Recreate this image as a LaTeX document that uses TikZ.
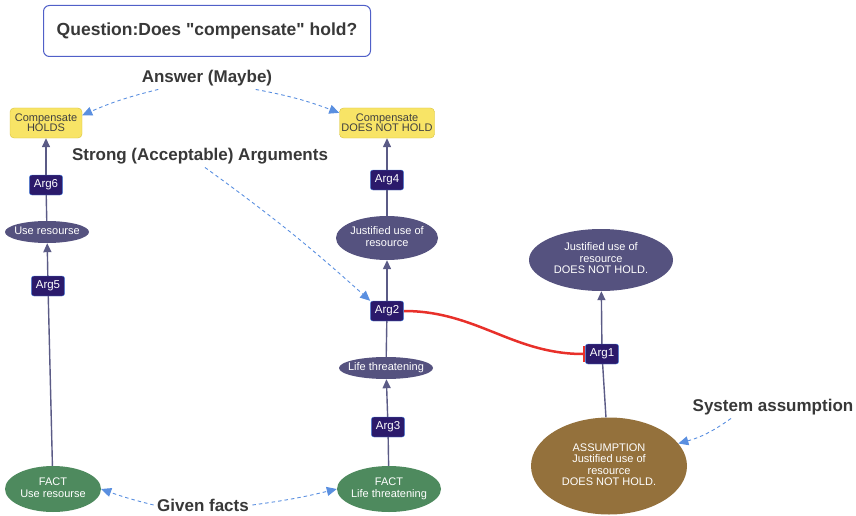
\documentclass[tikz,border=0pt]{standalone}
\usepackage{fontspec}
\setmainfont{Liberation Sans}[Ligatures=TeXOff]
\usetikzlibrary{positioning}
\usetikzlibrary{arrows.meta}
\usetikzlibrary{shapes.geometric}
\definecolor{argfill}{HTML}{2B1A6B}
\definecolor{argline}{HTML}{4F86E0}
\definecolor{qline}{HTML}{5060C8}
\definecolor{claim}{HTML}{55527F}
\definecolor{factgreen}{HTML}{4E8A5E}
\definecolor{assumbrown}{HTML}{94713C}
\definecolor{ansfill}{HTML}{F8E466}
\definecolor{ansline}{HTML}{D8C23C}
\definecolor{link}{HTML}{5B5B86}
\definecolor{hint}{HTML}{5A8FE0}
\definecolor{attack}{HTML}{E8302A}
\newcommand{\elltext}[1]{\makebox[0pt]{\begin{tabular}{@{}c@{}}#1\end{tabular}}}
\tikzset{arg/.style={draw=argline,fill=argfill,rounded corners=2.5pt,text=white,font=\fontsize{11.5}{12}\selectfont,inner xsep=4.5pt,inner ysep=2pt,minimum height=20pt}}
\tikzset{stmt/.style={ellipse,fill=claim,text=white,font=\fontsize{11}{11.5}\selectfont,inner sep=0pt}}
\tikzset{fact/.style={stmt,fill=factgreen,minimum width=96pt,minimum height=46pt}}
\tikzset{ans/.style={draw=ansline,fill=ansfill,rounded corners=4pt,text=black!75,font=\fontsize{11}{10}\selectfont,align=center,minimum height=30pt,inner sep=2pt}}
\tikzset{note/.style={font=\bfseries\fontsize{17}{19}\selectfont,text=black!78}}
\tikzset{supp/.style={link,line width=1.4pt,-{Triangle[length=9pt,width=8pt]}}}
\tikzset{plain/.style={link,line width=1.4pt}}
\tikzset{hintarr/.style={hint,dash pattern=on 3.5pt off 3pt,line width=0.9pt,-{Triangle[length=10pt,width=9pt]}}}
\begin{document}
\begin{tikzpicture}[x=1pt,y=-1pt]
        \useasboundingbox (0,0) rectangle (856,516);

        \node[draw=qline,line width=1pt,rounded corners=6pt,minimum width=327pt,minimum height=51pt,font=\bfseries\fontsize{17.5}{20}\selectfont,text=black!78] (Q) at (207,31) {Question:Does "compensate" hold?};

        \node[ans,minimum width=72pt] (hold) at (46,123) {Compensate\\HOLDS};
        \node[ans,minimum width=95pt,inner xsep=1pt] (nohold) at (387,123) {Compensate\\DOES NOT HOLD};

        \node[arg] (a6) at (46,185) {Arg6};
        \node[stmt,minimum width=84pt,minimum height=22pt] (use) at (47,232) {\elltext{Use resourse}};
        \node[arg] (a5) at (48,286) {Arg5};
        \node[fact] (f1) at (53,489) {\elltext{FACT\\Use resourse}};

        \node[arg] (a4) at (387,180) {Arg4};
        \node[stmt,minimum width=102pt,minimum height=44pt] (just) at (387,238) {\elltext{Justified use of\\resource}};
        \node[arg] (a2) at (387,311) {Arg2};
        \node[stmt,minimum width=94pt,minimum height=22pt] (life) at (386,368) {\elltext{Life threatening}};
        \node[arg] (a3) at (388,427) {Arg3};
        \node[fact,minimum width=104pt] (f2) at (389,489) {\elltext{FACT\\Life threatening}};

        \node[stmt,minimum width=144pt,minimum height=62pt] (notjust) at (601,260) {\elltext{Justified use of\\resource\\DOES NOT HOLD.}};
        \node[arg] (a1) at (602,354) {Arg1};
        \node[stmt,fill=assumbrown,minimum width=156pt,minimum height=97pt] (assum) at (609,466) {\elltext{ASSUMPTION\\Justified use of\\resource\\DOES NOT HOLD.}};

        % support chains
        \draw[plain] (f1) -- (a5);
        \draw[supp] (a5) -- (use);
        \draw[plain] (use) -- (a6);
        \draw[supp] (a6) -- (hold);

        \draw[plain] (f2) -- (a3);
        \draw[supp] (a3) -- (life);
        \draw[plain] (life) -- (a2);
        \draw[supp] (a2) -- (just);
        \draw[plain] (just) -- (a4);
        \draw[supp] (a4) -- (nohold);

        \draw[plain] (assum) -- (a1);
        \draw[supp] (a1) -- (notjust);

        % attack
        \draw[attack,line width=2.5pt,-{Bar[width=16pt,line width=2.5pt]}] (a2) to[out=0,in=180] (a1);

        % explanations
        \node[note] (answer) at (207,78) {Answer (Maybe)};
        \node[note] (strong) at (200,156) {Strong (Acceptable) Arguments};
        \node[note] (given) at (203,505) {Given facts};
        \node[note] (system) at (773,407) {System assumption};

        \draw[hintarr] (answer.south west) ++(20,0) to[bend right=5] (hold.12);
        \draw[hintarr] (answer.south east) ++(-20,0) to[bend left=5] (nohold.168);
        \draw[hintarr] (strong.south) ++(5,0) to[bend left=3] (a2.north west);
        \draw[hintarr] (given.west) to[bend left=3] (f1.east);
        \draw[hintarr] (given.east) to[bend right=3] (f2.west);
        \draw[hintarr] (system.south) ++(-42,0) to[bend left=10] (assum.18);
    \end{tikzpicture}
\end{document}
